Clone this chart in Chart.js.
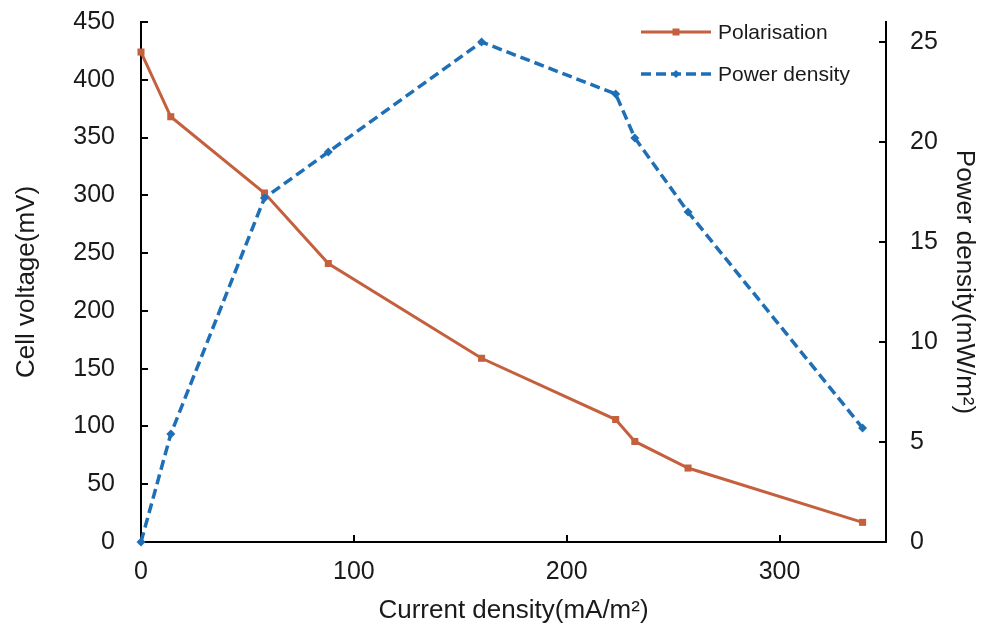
<!DOCTYPE html>
<html>
<head>
<meta charset="utf-8">
<script src="https://cdn.jsdelivr.net/npm/chart.js@4/dist/chart.umd.min.js"></script>
<style>
  html, body { margin: 0; padding: 0; background: #ffffff; }
  #wrap { width: 984px; height: 628px; position: relative; }
</style>
</head>
<body>
<div id="wrap"><canvas id="chart" width="984" height="628"></canvas></div>
<script>
// Measured cell performance
const currentDensity = [0, 14, 58, 88, 160, 223, 232, 257, 339];     // mA/m²
const cellVoltage    = [424, 368, 302, 241, 159, 106, 87, 64, 17];     // mV
const powerDensity   = [0, 5.4, 17.2, 19.5, 25.0, 22.4, 20.2, 16.5, 5.7]; // mW/m²

// Axis tick labels
const currentTicks = [0, 100, 200, 300];
const voltageTicks = [0, 50, 100, 150, 200, 250, 300, 350, 400, 450];
const powerTicks   = [0, 5, 10, 15, 20, 25];

const seriesNames = ['Polarisation', 'Power density'];
const axisTitles = ['Current density(mA/m\u00B2)', 'Cell voltage(mV)', 'Power density(mW/m\u00B2)'];

const FONT = "'Liberation Sans', Arial, sans-serif";
const RED = '#C4603D';
const BLUE = '#1E6FB6';
const INK = '#1a1a1a';

const toPoints = (xs, ys) => xs.map((x, i) => ({ x, y: ys[i] }));
const setTicks = list => scale => { scale.ticks = list.map(v => ({ value: v })); };
// Fixed axis band sizes; label overhang is not reserved
const fixWidth = w => s => { s.width = w; s.paddingTop = 0; s.paddingBottom = 0; };
const fixHeight = h => s => { s.height = h; s.paddingLeft = 0; s.paddingRight = 0; };

// Short tick marks pointing into the plot area
const innerTicks = {
  id: 'innerTicks',
  beforeDatasetsDraw(chart) {
    const { ctx, chartArea: a, scales } = chart;
    ctx.save();
    ctx.strokeStyle = '#000';
    ctx.lineWidth = 2;
    ctx.beginPath();
    scales.x.ticks.forEach(t => {
      const px = Math.round(scales.x.getPixelForValue(t.value));
      ctx.moveTo(px, a.bottom); ctx.lineTo(px, a.bottom - 7);
    });
    scales.y.ticks.forEach(t => {
      const py = Math.round(scales.y.getPixelForValue(t.value));
      ctx.moveTo(a.left, py); ctx.lineTo(a.left + 7, py);
    });
    scales.y2.ticks.forEach(t => {
      const py = Math.round(scales.y2.getPixelForValue(t.value));
      ctx.moveTo(a.right, py); ctx.lineTo(a.right - 7, py);
    });
    ctx.stroke();
    ctx.restore();
  }
};

// Legend box in the upper right of the plot: line sample, marker, label
const sampleLegend = {
  id: 'sampleLegend',
  afterDraw(chart) {
    const { ctx } = chart;
    const x0 = 641, x1 = 711, xm = 676, xt = 718;
    const rows = [
      { y: 32, color: RED, dash: [], width: 3, marker: 'rect', label: seriesNames[0] },
      { y: 74, color: BLUE, dash: [10, 5], width: 3.5, marker: 'diamond', label: seriesNames[1] }
    ];
    ctx.save();
    rows.forEach(r => {
      ctx.strokeStyle = r.color;
      ctx.lineWidth = r.width;
      ctx.setLineDash(r.dash);
      ctx.beginPath(); ctx.moveTo(x0, r.y); ctx.lineTo(x1, r.y); ctx.stroke();
      ctx.setLineDash([]);
      ctx.fillStyle = r.color;
      ctx.beginPath();
      if (r.marker === 'rect') {
        ctx.rect(xm - 3.5, r.y - 3.5, 7, 7);
      } else {
        ctx.moveTo(xm, r.y - 4); ctx.lineTo(xm + 4, r.y); ctx.lineTo(xm, r.y + 4); ctx.lineTo(xm - 4, r.y);
        ctx.closePath();
      }
      ctx.fill();
      ctx.fillStyle = INK;
      ctx.font = '21px ' + FONT;
      ctx.textAlign = 'left';
      ctx.textBaseline = 'middle';
      ctx.fillText(r.label, xt, r.y + 1);
    });
    ctx.restore();
  }
};

new Chart(document.getElementById('chart'), {
  type: 'line',
  data: {
    datasets: [
      {
        label: seriesNames[0],
        data: toPoints(currentDensity, cellVoltage),
        yAxisID: 'y',
        borderColor: RED,
        backgroundColor: RED,
        borderWidth: 3,
        pointStyle: 'rect',
        pointRadius: 5,
        pointBorderWidth: 0,
        tension: 0,
        clip: false,
        order: 1
      },
      {
        label: seriesNames[1],
        data: toPoints(currentDensity, powerDensity),
        yAxisID: 'y2',
        borderColor: BLUE,
        backgroundColor: BLUE,
        borderWidth: 3.5,
        borderDash: [10, 5],
        pointStyle: 'rectRot',
        pointRadius: 4.5,
        pointBorderWidth: 0,
        tension: 0,
        clip: false,
        order: 0
      }
    ]
  },
  options: {
    responsive: false,
    animation: false,
    devicePixelRatio: 1,
    layout: { padding: { top: 22, left: 0, right: 0, bottom: 0 } },
    plugins: { legend: { display: false }, tooltip: { enabled: false } },
    scales: {
      x: {
        type: 'linear',
        position: 'bottom',
        min: 0, max: 350,
        afterBuildTicks: setTicks(currentTicks),
        afterFit: fixHeight(86),
        grid: { display: false, drawTicks: false },
        border: { display: true, color: '#000', width: 2 },
        ticks: { padding: 15, color: INK, font: { family: FONT, size: 25 } },
        title: { display: true, text: axisTitles[0], color: INK, padding: { top: 0, bottom: 2 }, font: { family: FONT, size: 26 } }
      },
      y: {
        type: 'linear',
        position: 'left',
        min: 0, max: 450,
        afterBuildTicks: setTicks(voltageTicks),
        afterFit: fixWidth(141),
        grid: { display: false, drawTicks: false },
        border: { display: true, color: '#000', width: 2 },
        ticks: { padding: 26, color: INK, font: { family: FONT, size: 25 } },
        title: { display: true, text: axisTitles[1], color: INK, padding: { top: 11, bottom: 0 }, font: { family: FONT, size: 26 } }
      },
      y2: {
        type: 'linear',
        position: 'right',
        min: 0, max: 26,
        afterBuildTicks: setTicks(powerTicks),
        afterFit: fixWidth(98),
        grid: { display: false, drawTicks: false },
        border: { display: true, color: '#000', width: 2 },
        ticks: { padding: 24, color: INK, font: { family: FONT, size: 25 } },
        title: { display: true, text: axisTitles[2], color: INK, padding: { top: 4, bottom: 0 }, font: { family: FONT, size: 26 } }
      }
    }
  },
  plugins: [innerTicks, sampleLegend]
});
</script>
</body>
</html>
